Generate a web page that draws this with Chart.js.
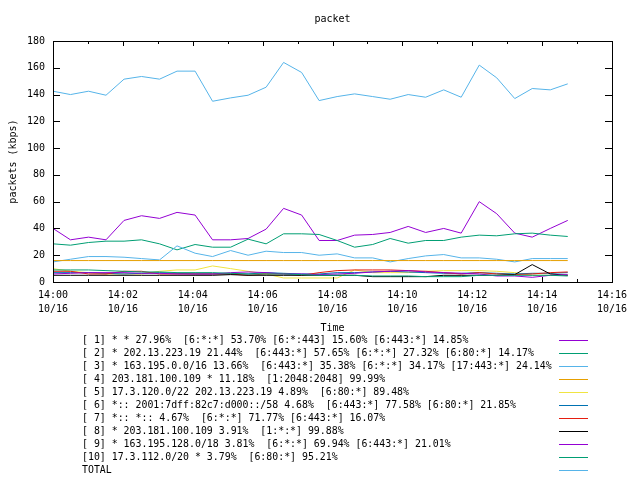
<!DOCTYPE html>
<html>
<head>
<meta charset="utf-8">
<script src="https://cdn.jsdelivr.net/npm/chart.js@4.4.1/dist/chart.umd.min.js"></script>
<style>
  body { margin: 0; background: #fff; }
  canvas { display: block; }
</style>
</head>
<body>
<canvas id="packet-chart" width="640" height="480"></canvas>
<script>
// =========================
// Data
// =========================
const times = ["14:00:00", "14:00:30", "14:01:01", "14:01:31", "14:02:02", "14:02:32",
  "14:03:03", "14:03:33", "14:04:04", "14:04:34", "14:05:05", "14:05:35", "14:06:06",
  "14:06:36", "14:07:07", "14:07:37", "14:08:08", "14:08:38", "14:09:09", "14:09:39",
  "14:10:10", "14:10:40", "14:11:11", "14:11:41", "14:12:12", "14:12:42", "14:13:13",
  "14:13:43", "14:14:14", "14:14:44"];

const xTickLabels = ["14:00", "14:02", "14:04", "14:06", "14:08", "14:10", "14:12", "14:14", "14:16"];
const dateLabel = "10/16";

const s1 = [40, 31.5, 33.5, 31.5, 46, 49.5, 47.5, 52, 50, 31.5, 31.5, 32.5, 39.5, 55, 50,
  31, 31, 35, 35.5, 37, 41.5, 37, 40, 36.5, 60, 51, 36.5, 33.5, 40, 46];
const s2 = [28.5, 27.5, 29.5, 30.5, 30.5, 31.5, 28.5, 24, 28, 26, 26, 32, 28.5, 36, 36,
  35.5, 31, 26, 28, 32.5, 29, 31, 31, 33.5, 35, 34.5, 36, 36.5, 35, 34];
const s3 = [15, 17, 19, 19, 18.5, 17.5, 16.5, 27, 21.5, 19, 23.5, 20, 23, 22, 22,
  20, 21, 18, 18, 15, 17.5, 19.5, 20.5, 18, 18, 17, 15, 17.5, 17.5, 17.5];
const s4 = [16, 16, 16, 16, 16, 16, 16, 16, 16, 16, 16, 16, 16, 16, 16,
  16, 16, 16, 16, 16, 16, 16, 16, 16, 16, 16, 16, 16, 16, 16];
const s5 = [10, 8, 7, 6, 6, 6, 8, 9, 9, 12, 10, 8, 6, 3, 3,
  3, 3, 9, 7, 7, 7, 8, 8.5, 8.5, 8.5, 8, 7, 5, 5, 5];
const s6 = [7, 7, 7, 6.5, 6, 6.5, 7, 6.5, 6, 6, 6, 6, 7, 6.5, 6,
  6, 7, 7, 7.5, 8, 7.5, 7, 6.5, 6.5, 7, 6.5, 6, 6.5, 6.5, 7];
const s7 = [8, 8, 6, 6, 8, 8, 6, 6, 6, 6, 6, 5, 6, 6, 5,
  7, 8.5, 9, 9, 9, 8.5, 8, 7, 6, 7, 6, 5.5, 6, 7, 7.5];
const s8 = [5, 5, 5, 5, 5, 5, 5, 5, 5, 5, 5.5, 5, 5, 5, 5,
  5, 5, 5, 4, 4, 4, 4, 5, 5, 5, 5, 5.5, 13, 6, 5];
const s9 = [6, 6.5, 7, 7, 7, 6.5, 6.5, 6, 6, 6, 7, 7.5, 7, 6, 6,
  5.5, 6, 6.5, 7.5, 8, 8.5, 7.5, 7, 6.5, 6, 4.5, 4.5, 3.5, 5, 5.5];
const s10 = [9, 9, 9, 8.5, 8, 7.5, 7.5, 7, 7, 7, 6.5, 6, 6, 6, 5.5,
  5, 5, 5, 4.5, 4.5, 4.5, 4, 4, 4, 5, 5, 5, 5, 5, 4.5];
const total = [142.5, 140, 142.5, 139.5, 151.5, 153.5, 151.5, 157.5, 157.5, 135, 137.5, 139.5,
  145.5, 164, 156.5, 135.5, 138.5, 140.5, 138.5, 136.5, 140, 138, 143.5, 138, 162, 152.5,
  137, 144.5, 143.5, 148];

const seriesLabels = [
  "[ 1] * * 27.96%  [6:*:*] 53.70% [6:*:443] 15.60% [6:443:*] 14.85%",
  "[ 2] * 202.13.223.19 21.44%  [6:443:*] 57.65% [6:*:*] 27.32% [6:80:*] 14.17%",
  "[ 3] * 163.195.0.0/16 13.66%  [6:443:*] 35.38% [6:*:*] 34.17% [17:443:*] 24.14%",
  "[ 4] 203.181.100.109 * 11.18%  [1:2048:2048] 99.99%",
  "[ 5] 17.3.120.0/22 202.13.223.19 4.89%  [6:80:*] 89.48%",
  "[ 6] *:: 2001:7dff:82c7:d000::/58 4.68%  [6:443:*] 77.58% [6:80:*] 21.85%",
  "[ 7] *:: *:: 4.67%  [6:*:*] 71.77% [6:443:*] 16.07%",
  "[ 8] * 203.181.100.109 3.91%  [1:*:*] 99.88%",
  "[ 9] * 163.195.128.0/18 3.81%  [6:*:*] 69.94% [6:443:*] 21.01%",
  "[10] 17.3.112.0/20 * 3.79%  [6:80:*] 95.21%",
  "TOTAL",
];
const seriesValues = [s1, s2, s3, s4, s5, s6, s7, s8, s9, s10, total];
const seriesColors = ["#9400d3", "#009e73", "#56b4e9", "#e69f00", "#f0e442", "#0072b2",
  "#e51e10", "#000000", "#9400d3", "#009e73", "#56b4e9"];

// menit sejak 14:00
function toMinutes(t) {
  const [h, m, s] = t.split(":").map(Number);
  return (h - 14) * 60 + m + s / 60;
}

const FONT = "DejaVu Sans Mono";

// =========================
// Gnuplot-like frame, ticks, titles, key
// =========================
const gnuplotLook = {
  id: "gnuplotLook",
  afterDraw(chart) {
    const { ctx, chartArea: a, scales } = chart;
    ctx.save();
    ctx.strokeStyle = "#000";
    ctx.lineWidth = 1;

    ctx.beginPath();
    // y ticks, mirrored
    for (let v = 0; v <= 180; v += 20) {
      const py = Math.round(scales.y.getPixelForValue(v)) + 0.5;
      ctx.moveTo(a.left, py); ctx.lineTo(a.left + 7, py);
      ctx.moveTo(a.right, py); ctx.lineTo(a.right - 7, py);
    }
    // x ticks, major every 2 min, minor every min
    for (let m = 0; m <= 16; m++) {
      const px = Math.round(scales.x.getPixelForValue(m)) + 0.5;
      const len = m % 2 === 0 ? 5 : 3;
      ctx.moveTo(px, a.bottom); ctx.lineTo(px, a.bottom - len);
      ctx.moveTo(px, a.top); ctx.lineTo(px, a.top + len);
    }
    ctx.stroke();
    ctx.strokeRect(a.left + 0.5, a.top + 0.5, a.right - a.left, a.bottom - a.top);

    // titles
    ctx.fillStyle = "#000";
    ctx.font = "10px '" + FONT + "'";
    ctx.textAlign = "center";
    ctx.textBaseline = "middle";
    const cx = (a.left + a.right) / 2;
    ctx.fillText("packet", cx, 19);
    ctx.fillText("Time", cx, 328);
    ctx.save();
    ctx.translate(13, (a.top + a.bottom) / 2);
    ctx.rotate(-Math.PI / 2);
    ctx.fillText("packets (kbps)", 0, 0);
    ctx.restore();

    // key
    ctx.font = "9.9px '" + FONT + "'";
    ctx.textAlign = "left";
    chart.data.datasets.forEach((ds, i) => {
      const y = 340 + i * 13;
      ctx.fillStyle = "#000";
      ctx.fillText(ds.label, 82, y);
      ctx.strokeStyle = ds.borderColor;
      ctx.beginPath();
      ctx.moveTo(559, y + 0.5);
      ctx.lineTo(588, y + 0.5);
      ctx.stroke();
    });
    ctx.restore();
  },
};

const ctx = document.getElementById("packet-chart").getContext("2d");

new Chart(ctx, {
  type: "line",
  data: {
    datasets: seriesValues.map((vals, i) => ({
      label: seriesLabels[i],
      data: vals.map((v, j) => ({ x: toMinutes(times[j]), y: v })),
      borderColor: seriesColors[i],
      borderWidth: 1,
      pointRadius: 0,
      tension: 0,
      fill: false,
      order: seriesValues.length - i,
    })),
  },
  options: {
    responsive: false,
    animation: false,
    devicePixelRatio: 1,
    layout: { padding: { left: 0, right: 28, top: 41, bottom: 138 } },
    plugins: {
      legend: { display: false },
      tooltip: { enabled: false },
    },
    scales: {
      x: {
        type: "linear",
        min: 0,
        max: 16,
        afterFit: (s) => { s.height = 60; },
        grid: { display: false, drawTicks: false },
        border: { display: false },
        ticks: {
          stepSize: 2,
          autoSkip: false,
          maxRotation: 0,
          padding: 6,
          color: "#000",
          font: { family: FONT, size: 10, lineHeight: 1.4 },
          callback: (v, idx) => [xTickLabels[idx], dateLabel],
        },
      },
      y: {
        min: 0,
        max: 180,
        afterFit: (s) => { s.width = 53; },
        grid: { display: false, drawTicks: false },
        border: { display: false },
        ticks: {
          stepSize: 20,
          padding: 8,
          color: "#000",
          font: { family: FONT, size: 10 },
        },
      },
    },
  },
  plugins: [gnuplotLook],
});
</script>
</body>
</html>
